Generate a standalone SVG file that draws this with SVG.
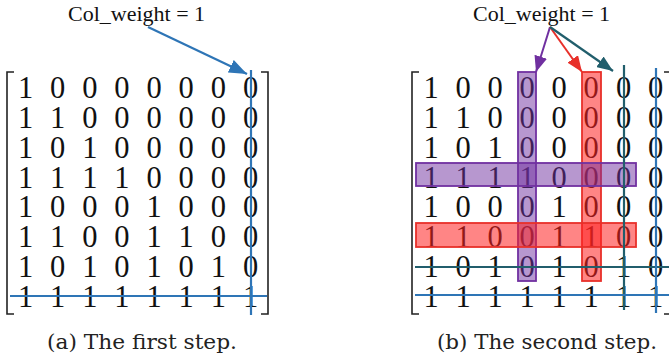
<svg xmlns="http://www.w3.org/2000/svg" width="669" height="363" viewBox="0 0 669 363">
<style>
.m{font-family:"Liberation Serif","Times New Roman",serif;font-size:30.5px;fill:#111;text-anchor:middle}
.lbl{font-family:"Liberation Serif","Times New Roman",serif;font-size:22px;fill:#111}
.cap{font-family:"DejaVu Serif","Liberation Serif",serif;font-size:21px;fill:#222;text-anchor:middle}
.br{fill:none;stroke:#222;stroke-width:1.6}
.blue{stroke:#2e75b6;stroke-width:2.2;fill:none}
.teal{stroke:#215e6c;stroke-width:2.2;fill:none}
.purp{stroke:#7030a0;stroke-width:2;fill:none}
.red{stroke:#e8302a;stroke-width:2;fill:none}
.pf{fill:#7030a0;fill-opacity:0.5;stroke:#7030a0;stroke-width:1.8}
.rf{fill:#ff2020;fill-opacity:0.55;stroke:#e8302a;stroke-width:1.8}
</style>
<defs>
<marker id="ab" markerUnits="userSpaceOnUse" markerWidth="19" markerHeight="14" refX="18" refY="7" orient="auto"><path d="M0,0 L18,7 L0,14 Z" fill="#2e75b6"/></marker>
<marker id="ap" markerUnits="userSpaceOnUse" markerWidth="17" markerHeight="13" refX="16" refY="6.5" orient="auto"><path d="M0,0 L16,6.5 L0,13 Z" fill="#7030a0"/></marker>
<marker id="ar" markerUnits="userSpaceOnUse" markerWidth="17" markerHeight="13" refX="16" refY="6.5" orient="auto"><path d="M0,0 L16,6.5 L0,13 Z" fill="#e8302a"/></marker>
<marker id="at" markerUnits="userSpaceOnUse" markerWidth="17" markerHeight="13" refX="16" refY="6.5" orient="auto"><path d="M0,0 L16,6.5 L0,13 Z" fill="#215e6c"/></marker>
</defs>

<g id="matrixA">
<path class="br" d="M14,72 H7 V314 H14"/>
<path class="br" d="M261,72 H268 V314 H261"/>
<g class="m">
<text y="98"><tspan x="25.5">1</tspan><tspan x="57.6">0</tspan><tspan x="89.8">0</tspan><tspan x="121.9">0</tspan><tspan x="154.1">0</tspan><tspan x="186.2">0</tspan><tspan x="218.4">0</tspan><tspan x="250.5">0</tspan></text>
<text y="127.9"><tspan x="25.5">1</tspan><tspan x="57.6">1</tspan><tspan x="89.8">0</tspan><tspan x="121.9">0</tspan><tspan x="154.1">0</tspan><tspan x="186.2">0</tspan><tspan x="218.4">0</tspan><tspan x="250.5">0</tspan></text>
<text y="157.7"><tspan x="25.5">1</tspan><tspan x="57.6">0</tspan><tspan x="89.8">1</tspan><tspan x="121.9">0</tspan><tspan x="154.1">0</tspan><tspan x="186.2">0</tspan><tspan x="218.4">0</tspan><tspan x="250.5">0</tspan></text>
<text y="187.6"><tspan x="25.5">1</tspan><tspan x="57.6">1</tspan><tspan x="89.8">1</tspan><tspan x="121.9">1</tspan><tspan x="154.1">0</tspan><tspan x="186.2">0</tspan><tspan x="218.4">0</tspan><tspan x="250.5">0</tspan></text>
<text y="217.4"><tspan x="25.5">1</tspan><tspan x="57.6">0</tspan><tspan x="89.8">0</tspan><tspan x="121.9">0</tspan><tspan x="154.1">1</tspan><tspan x="186.2">0</tspan><tspan x="218.4">0</tspan><tspan x="250.5">0</tspan></text>
<text y="247.3"><tspan x="25.5">1</tspan><tspan x="57.6">1</tspan><tspan x="89.8">0</tspan><tspan x="121.9">0</tspan><tspan x="154.1">1</tspan><tspan x="186.2">1</tspan><tspan x="218.4">0</tspan><tspan x="250.5">0</tspan></text>
<text y="277.2"><tspan x="25.5">1</tspan><tspan x="57.6">0</tspan><tspan x="89.8">1</tspan><tspan x="121.9">0</tspan><tspan x="154.1">1</tspan><tspan x="186.2">0</tspan><tspan x="218.4">1</tspan><tspan x="250.5">0</tspan></text>
<text y="307"><tspan x="25.5">1</tspan><tspan x="57.6">1</tspan><tspan x="89.8">1</tspan><tspan x="121.9">1</tspan><tspan x="154.1">1</tspan><tspan x="186.2">1</tspan><tspan x="218.4">1</tspan><tspan x="250.5">1</tspan></text>
</g>
</g>

<g id="labelA"><text class="lbl" x="68" y="21">Col_weight = 1</text></g>
<g id="captionA"><text class="cap" x="142" y="349" textLength="190" lengthAdjust="spacingAndGlyphs">(a) The first step.</text></g>

<g id="matrixB">
<path class="br" d="M419,72 H412 V314 H419"/>
<path class="br" d="M664,72 H669 M664,314 H669"/>
<g class="m">
<text y="98"><tspan x="431">1</tspan><tspan x="463">0</tspan><tspan x="495">0</tspan><tspan x="527">0</tspan><tspan x="559">0</tspan><tspan x="591">0</tspan><tspan x="623.5">0</tspan><tspan x="655.5">0</tspan></text>
<text y="127.9"><tspan x="431">1</tspan><tspan x="463">1</tspan><tspan x="495">0</tspan><tspan x="527">0</tspan><tspan x="559">0</tspan><tspan x="591">0</tspan><tspan x="623.5">0</tspan><tspan x="655.5">0</tspan></text>
<text y="157.7"><tspan x="431">1</tspan><tspan x="463">0</tspan><tspan x="495">1</tspan><tspan x="527">0</tspan><tspan x="559">0</tspan><tspan x="591">0</tspan><tspan x="623.5">0</tspan><tspan x="655.5">0</tspan></text>
<text y="187.6"><tspan x="431">1</tspan><tspan x="463">1</tspan><tspan x="495">1</tspan><tspan x="527">1</tspan><tspan x="559">0</tspan><tspan x="591">0</tspan><tspan x="623.5">0</tspan><tspan x="655.5">0</tspan></text>
<text y="217.4"><tspan x="431">1</tspan><tspan x="463">0</tspan><tspan x="495">0</tspan><tspan x="527">0</tspan><tspan x="559">1</tspan><tspan x="591">0</tspan><tspan x="623.5">0</tspan><tspan x="655.5">0</tspan></text>
<text y="247.3"><tspan x="431">1</tspan><tspan x="463">1</tspan><tspan x="495">0</tspan><tspan x="527">0</tspan><tspan x="559">1</tspan><tspan x="591">1</tspan><tspan x="623.5">0</tspan><tspan x="655.5">0</tspan></text>
<text y="277.2"><tspan x="431">1</tspan><tspan x="463">0</tspan><tspan x="495">1</tspan><tspan x="527">0</tspan><tspan x="559">1</tspan><tspan x="591">0</tspan><tspan x="623.5">1</tspan><tspan x="655.5">0</tspan></text>
<text y="307"><tspan x="431">1</tspan><tspan x="463">1</tspan><tspan x="495">1</tspan><tspan x="527">1</tspan><tspan x="559">1</tspan><tspan x="591">1</tspan><tspan x="623.5">1</tspan><tspan x="655.5">1</tspan></text>
</g>
</g>

<g id="highlights">
<rect class="pf" x="518" y="72" width="18" height="209"/>
<rect class="rf" x="582" y="72" width="19" height="209"/>
<rect class="pf" x="416" y="163" width="220" height="23"/>
<rect class="rf" x="416" y="223" width="220" height="24"/>
</g>

<g id="labelB"><text class="lbl" x="473" y="21">Col_weight = 1</text></g>
<g id="captionB"><text class="cap" x="547" y="349" textLength="220" lengthAdjust="spacingAndGlyphs">(b) The second step.</text></g>

<g id="connectors">
<line class="blue" x1="251" y1="70" x2="251" y2="315"/>
<line class="blue" x1="10" y1="296" x2="267" y2="296"/>
<line class="blue" x1="148" y1="27" x2="247" y2="74" marker-end="url(#ab)"/>
<line class="teal" x1="624" y1="65" x2="624" y2="310"/>
<line class="teal" x1="415" y1="267" x2="669" y2="267"/>
<line class="blue" x1="656" y1="68" x2="656" y2="313"/>
<line class="blue" x1="415" y1="295" x2="669" y2="295"/>
<line class="purp" x1="550" y1="27" x2="536" y2="72" marker-end="url(#ap)"/>
<line class="red" x1="550" y1="27" x2="582" y2="72" marker-end="url(#ar)"/>
<line class="teal" x1="550" y1="27" x2="613" y2="71" marker-end="url(#at)"/>
</g>
</svg>
